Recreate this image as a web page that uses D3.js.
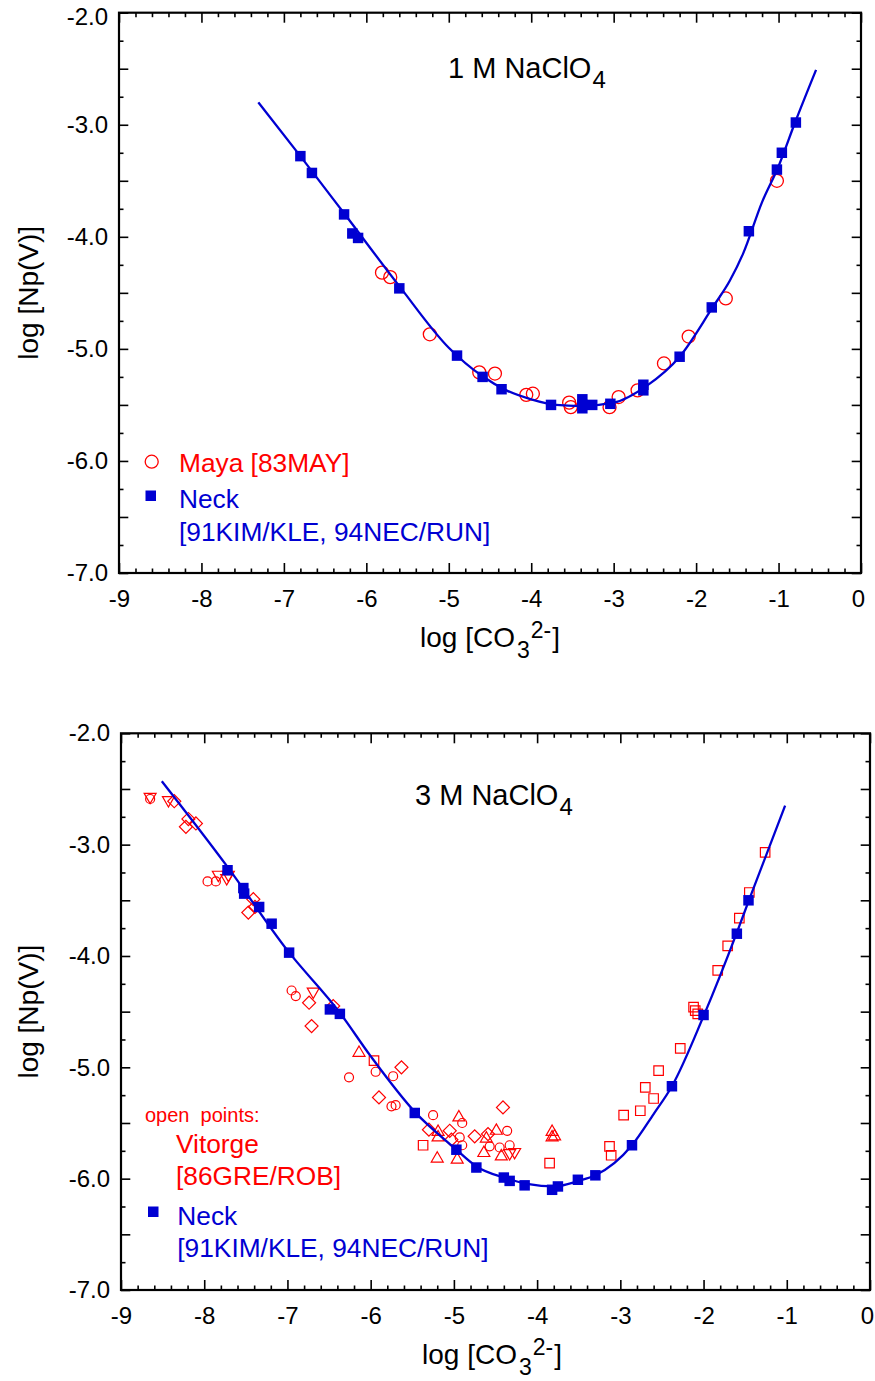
<!DOCTYPE html>
<html><head><meta charset="utf-8">
<script src="https://cdn.jsdelivr.net/npm/d3@7"></script>
<style>
html,body{margin:0;padding:0;background:#fff;}
svg{display:block;font-family:"Liberation Sans",Arial,Helvetica,sans-serif;}
</style></head><body>
<svg id="chart" width="875" height="1381"></svg>
<script>
// ---------- tick labels ----------
const xTickValues = [-9, -8, -7, -6, -5, -4, -3, -2, -1, 0];
const yTickValues = [-2, -3, -4, -5, -6, -7];

// ---------- 1 M NaClO4 panel ----------
const neck1X = [-6.80,-6.66,-6.27,-6.17,-6.10,-5.60,-4.90,-4.59,-4.36,-3.76,-3.38,-3.38,-3.38,-3.26,-3.04,-2.64,-2.64,-2.20,-1.81,-1.36,-1.02,-0.96,-0.79];
const neck1Y = [-3.28,-3.43,-3.80,-3.97,-4.01,-4.46,-5.06,-5.25,-5.36,-5.50,-5.45,-5.50,-5.53,-5.50,-5.49,-5.32,-5.37,-5.07,-4.63,-3.95,-3.40,-3.25,-2.98];
const maya1X = [-5.81,-5.71,-5.23,-4.63,-4.44,-4.06,-3.98,-3.54,-3.52,-3.05,-2.94,-2.71,-2.39,-2.09,-1.64,-1.02];
const maya1Y = [-4.32,-4.36,-4.87,-5.21,-5.22,-5.41,-5.40,-5.48,-5.52,-5.52,-5.43,-5.37,-5.13,-4.89,-4.55,-3.50];
const fit1X = [-7.31,-6.8,-6.27,-5.6,-5.0,-4.6,-4.3,-4.0,-3.7,-3.4,-3.0,-2.6,-2.2,-1.8,-1.59,-1.43,-1.2,-1.0,-0.8,-0.545];
const fit1Y = [-2.80,-3.28,-3.79,-4.44,-4.99,-5.24,-5.37,-5.45,-5.50,-5.51,-5.48,-5.33,-5.07,-4.63,-4.39,-4.15,-3.69,-3.37,-2.98,-2.51];

// ---------- 3 M NaClO4 panel ----------
const neck3X = [-7.72,-7.53,-7.52,-7.34,-7.19,-6.98,-6.49,-6.37,-5.47,-4.97,-4.73,-4.40,-4.33,-4.15,-3.82,-3.75,-3.51,-3.30,-2.86,-2.38,-2.00,-1.60,-1.46];
const neck3Y = [-3.23,-3.39,-3.44,-3.56,-3.71,-3.97,-4.48,-4.52,-5.41,-5.74,-5.90,-5.99,-6.02,-6.06,-6.10,-6.07,-6.01,-5.97,-5.70,-5.17,-4.53,-3.80,-3.50];
const fit3X = [-8.51,-7.72,-7.0,-6.37,-6.0,-5.47,-5.0,-4.73,-4.4,-4.1,-3.8,-3.5,-3.3,-2.86,-2.6,-2.38,-2.0,-1.6,-1.46,-1.02];
const fit3Y = [-2.43,-3.20,-3.95,-4.51,-4.90,-5.40,-5.72,-5.89,-5.99,-6.05,-6.07,-6.02,-5.97,-5.70,-5.42,-5.17,-4.54,-3.79,-3.51,-2.65];
// Vitorge [86GRE/ROB] open points
const vitCircleX = [-8.65,-7.96,-7.86,-6.95,-6.90,-5.94,-6.26,-5.73,-5.75,-5.70,-5.25,-4.90,-4.93,-4.90,-4.36,-4.57,-4.45,-4.33];
const vitCircleY = [-2.59,-3.33,-3.33,-4.31,-4.36,-5.04,-5.09,-5.08,-5.35,-5.34,-5.43,-5.50,-5.63,-5.70,-5.57,-5.71,-5.72,-5.70];
const vitDiamondX = [-8.36,-8.19,-8.22,-8.10,-7.41,-7.47,-7.39,-6.74,-6.45,-6.71,-5.63,-5.90,-5.30,-5.05,-5.03,-4.75,-4.59,-4.41];
const vitDiamondY = [-2.61,-2.77,-2.84,-2.81,-3.49,-3.61,-3.56,-4.42,-4.45,-4.63,-5.00,-5.27,-5.56,-5.57,-5.65,-5.62,-5.60,-5.36];
const vitTriUpX = [-6.14,-4.94,-5.19,-5.19,-4.49,-4.61,-4.64,-4.43,-5.20,-4.96,-3.82,-3.82,-3.79];
const vitTriUpY = [-4.87,-5.45,-5.58,-5.63,-5.57,-5.64,-5.77,-5.80,-5.82,-5.83,-5.58,-5.63,-5.62];
const vitTriDownX = [-8.65,-8.43,-7.83,-7.71,-7.73,-6.69,-4.33,-4.27];
const vitTriDownY = [-2.57,-2.60,-3.27,-3.27,-3.30,-4.32,-5.77,-5.76];
const vitSquareX = [-5.96,-5.37,-3.85,-3.13,-3.11,-2.96,-2.76,-2.70,-2.60,-2.54,-2.28,-2.12,-2.10,-2.07,-1.83,-1.71,-1.57,-1.45,-1.26];
const vitSquareY = [-4.94,-5.70,-5.86,-5.71,-5.79,-5.43,-5.39,-5.18,-5.28,-5.03,-4.83,-4.46,-4.49,-4.52,-4.13,-3.91,-3.66,-3.43,-3.07];

// ---------- styles ----------
const RED = "#ff0000";
const BLUE = "#0000d2";
const svg = d3.select("#chart");

function zip(xs, ys) { return xs.map((v, i) => [v, ys[i]]); }

function drawPanel(cfg) {
  const x = d3.scaleLinear().domain([-9, 0]).range([cfg.left, cfg.right]);
  const y = d3.scaleLinear().domain([-7, -2]).range([cfg.bottom, cfg.top]);
  const g = svg.append("g");

  const xMinor = d3.range(0, 46).filter(i => i % 5 !== 0).map(i => -9 + i * 0.2);
  const yHalf = d3.range(0, 11).map(i => -7 + i * 0.5);
  const yQuarter = d3.range(0, 10).map(i => -6.75 + i * 0.5);

  function styleAxis(sel) {
    sel.select(".domain").remove();
    sel.selectAll(".tick line").attr("stroke", "#000").attr("stroke-width", 1.6);
    sel.selectAll(".tick text").attr("fill", "#000").attr("font-size", 24)
      .attr("font-family", "Liberation Sans, Arial, sans-serif");
  }
  // bottom axis
  const bx = g.append("g").attr("transform", `translate(0,${cfg.bottom})`)
    .call(d3.axisBottom(x).tickValues(xTickValues).tickSize(-10).tickPadding(17).tickFormat(d => String(d)))
    .call(styleAxis);
  bx.selectAll(".tick text").filter(d => d === 0).attr("dx", -3);
  g.append("g").attr("transform", `translate(0,${cfg.bottom})`)
    .call(d3.axisBottom(x).tickValues(xMinor).tickSize(-4.5).tickFormat(""))
    .call(styleAxis);
  // top axis
  g.append("g").attr("transform", `translate(0,${cfg.top})`)
    .call(d3.axisTop(x).tickValues(xTickValues).tickSize(-10).tickFormat(""))
    .call(styleAxis);
  g.append("g").attr("transform", `translate(0,${cfg.top})`)
    .call(d3.axisTop(x).tickValues(xMinor).tickSize(-4.5).tickFormat(""))
    .call(styleAxis);
  // left axis
  const ly = g.append("g").attr("transform", `translate(${cfg.left},0)`)
    .call(d3.axisLeft(y).tickValues(yHalf).tickSize(-9.3).tickPadding(11)
      .tickFormat(d => yTickValues.includes(d) ? d.toFixed(1) : ""))
    .call(styleAxis);
  if (cfg.topLabelShift) ly.selectAll(".tick text").filter(d => d === -2).attr("y", cfg.topLabelShift);
  g.append("g").attr("transform", `translate(${cfg.left},0)`)
    .call(d3.axisLeft(y).tickValues(yQuarter).tickSize(-4.5).tickFormat(""))
    .call(styleAxis);
  // right axis
  g.append("g").attr("transform", `translate(${cfg.right},0)`)
    .call(d3.axisRight(y).tickValues(yHalf).tickSize(-9.3).tickFormat(""))
    .call(styleAxis);
  g.append("g").attr("transform", `translate(${cfg.right},0)`)
    .call(d3.axisRight(y).tickValues(yQuarter).tickSize(-4.5).tickFormat(""))
    .call(styleAxis);

  // frame
  g.append("rect").attr("x", cfg.left).attr("y", cfg.top)
    .attr("width", cfg.right - cfg.left).attr("height", cfg.bottom - cfg.top)
    .attr("fill", "none").attr("stroke", "#000").attr("stroke-width", 2.2);

  // axis titles
  const xt = g.append("text").attr("x", cfg.left + 301).attr("y", cfg.bottom + 73.5)
    .attr("font-size", 28).attr("fill", "#000");
  xt.append("tspan").text("log [CO");
  xt.append("tspan").attr("font-size", 23).attr("dx", 2).attr("dy", 11.7).text("3");
  xt.append("tspan").attr("font-size", 23).attr("dx", 1).attr("dy", -20).text("2-");
  xt.append("tspan").attr("dx", 1).attr("dy", 8.3).text("]");

  const cy = (cfg.top + cfg.bottom) / 2;
  g.append("text").attr("transform", `translate(37.5,${cy}) rotate(-90)`)
    .attr("text-anchor", "middle").attr("font-size", 28).attr("fill", "#000")
    .text("log [Np(V)]");

  // panel title
  const tt = g.append("text").attr("x", cfg.titleX).attr("y", cfg.titleY)
    .attr("font-size", 29).attr("fill", "#000");
  tt.append("tspan").text(cfg.title);
  tt.append("tspan").attr("font-size", 24).attr("dx", 1).attr("dy", 10).text("4");

  return { g, x, y };
}

function symbols(g, x, y, xs, ys, type, size, rot, filled, color, sw) {
  g.append("g").selectAll("path").data(zip(xs, ys)).join("path")
    .attr("transform", d => `translate(${x(d[0])},${y(d[1])}) rotate(${rot})`)
    .attr("d", d3.symbol(type, size))
    .attr("fill", filled ? color : "none")
    .attr("stroke", filled ? "none" : color)
    .attr("stroke-width", sw || 1.3);
}

function fitLine(g, x, y, xs, ys) {
  const line = d3.line().x(d => x(d[0])).y(d => y(d[1])).curve(d3.curveMonotoneX);
  g.append("path").datum(zip(xs, ys)).attr("d", line)
    .attr("fill", "none").attr("stroke", BLUE).attr("stroke-width", 2.3);
}

// ===== panel 1 =====
{
  const { g, x, y } = drawPanel({ left: 119, right: 861, top: 12.7, bottom: 573,
    title: "1 M NaClO", titleX: 448, titleY: 78.3, topLabelShift: 4 });
  symbols(g, x, y, maya1X, maya1Y, d3.symbolCircle, Math.PI * 6.5 * 6.5, 0, false, RED, 1.3);
  fitLine(g, x, y, fit1X, fit1Y);
  symbols(g, x, y, neck1X, neck1Y, d3.symbolSquare, 110, 0, true, BLUE);

  // legend
  g.append("circle").attr("cx", 151.7).attr("cy", 461.7).attr("r", 6.5)
    .attr("fill", "none").attr("stroke", RED).attr("stroke-width", 1.3);
  g.append("text").attr("x", 179).attr("y", 471.7).attr("font-size", 26.3).attr("fill", RED).text("Maya [83MAY]");
  g.append("rect").attr("x", 145.5).attr("y", 490.5).attr("width", 10.5).attr("height", 10.5).attr("fill", BLUE);
  g.append("text").attr("x", 179).attr("y", 508.3).attr("font-size", 26.3).attr("fill", BLUE).text("Neck");
  g.append("text").attr("x", 179).attr("y", 540.7).attr("font-size", 26.3).attr("fill", BLUE).text("[91KIM/KLE, 94NEC/RUN]");
}

// ===== panel 2 =====
{
  const { g, x, y } = drawPanel({ left: 121, right: 870, top: 733.3, bottom: 1290,
    title: "3 M NaClO", titleX: 415, titleY: 805 });
  symbols(g, x, y, vitCircleX, vitCircleY, d3.symbolCircle, Math.PI * 4.5 * 4.5, 0, false, RED, 1.2);
  symbols(g, x, y, vitDiamondX, vitDiamondY, d3.symbolSquare, 85, 45, false, RED, 1.2);
  symbols(g, x, y, vitTriUpX, vitTriUpY, d3.symbolTriangle, 62, 0, false, RED, 1.2);
  symbols(g, x, y, vitTriDownX, vitTriDownY, d3.symbolTriangle, 62, 180, false, RED, 1.2);
  symbols(g, x, y, vitSquareX, vitSquareY, d3.symbolSquare, 90, 0, false, RED, 1.2);
  fitLine(g, x, y, fit3X, fit3Y);
  symbols(g, x, y, neck3X, neck3Y, d3.symbolSquare, 110, 0, true, BLUE);

  // legend
  g.append("text").attr("x", 145).attr("y", 1121.7).attr("font-size", 20).attr("fill", RED)
    .attr("xml:space", "preserve").style("white-space", "pre").text("open  points:");
  g.append("text").attr("x", 176).attr("y", 1153.3).attr("font-size", 26.3).attr("fill", RED).text("Vitorge");
  g.append("text").attr("x", 176).attr("y", 1185).attr("font-size", 26.3).attr("fill", RED).text("[86GRE/ROB]");
  g.append("rect").attr("x", 148).attr("y", 1206.5).attr("width", 10.5).attr("height", 10.5).attr("fill", BLUE);
  g.append("text").attr("x", 177.3).attr("y", 1225).attr("font-size", 26.3).attr("fill", BLUE).text("Neck");
  g.append("text").attr("x", 177.3).attr("y", 1256.5).attr("font-size", 26.3).attr("fill", BLUE).text("[91KIM/KLE, 94NEC/RUN]");
}
</script>
</body></html>
